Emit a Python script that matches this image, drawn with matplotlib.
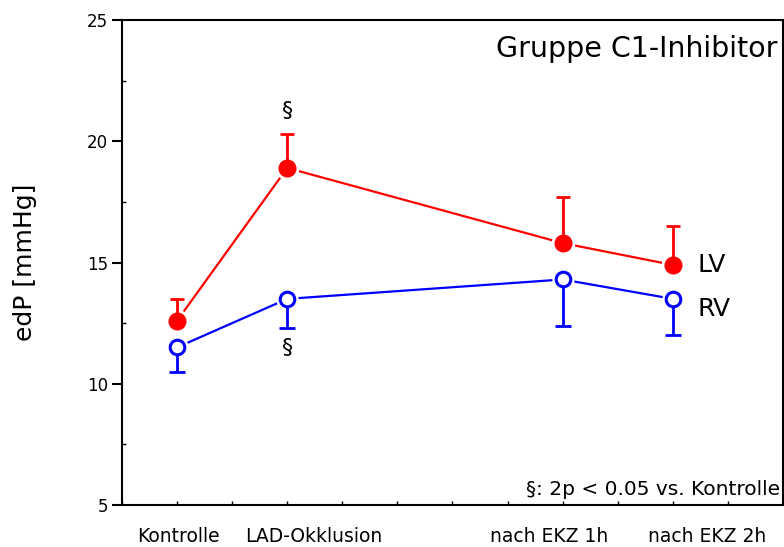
import numpy as np
import matplotlib.pyplot as plt
from matplotlib.ticker import MultipleLocator

# ----------------------------------------------------------------------
# Data
# ----------------------------------------------------------------------
categories = ["Kontrolle", "LAD-Okklusion", "nach EKZ 1h", "nach EKZ 2h"]
x_pos = [1.0, 2.0, 4.5, 5.5]
label_pos = [1.01, 2.24, 4.38, 5.81]   # labels are not centred on the points

lv_mean = [12.6, 18.9, 15.8, 14.9]
lv_err_up = [0.9, 1.4, 1.9, 1.6]

rv_mean = [11.5, 13.5, 14.3, 13.5]
rv_err_down = [1.0, 1.2, 1.9, 1.5]

red = "#ff0000"
blue = "#0000ff"

fig = plt.figure(figsize=(7.84, 5.47), dpi=100)
ax = fig.add_axes([0.1556, 0.0768, 0.8431, 0.8866])

x = np.array(x_pos)
lv = np.array(lv_mean)
rv = np.array(rv_mean)

# connecting lines, then a white halo so the lines stop short of the markers
ax.plot(x, lv, color=red, lw=1.6, zorder=2)
ax.plot(x, rv, color=blue, lw=1.6, zorder=2)
ax.plot(x, lv, ls="none", marker="o", ms=16, mfc="white", mec="white", zorder=3)
ax.plot(x, rv, ls="none", marker="o", ms=15, mfc="white", mec="white", zorder=3)

# one-sided error bars
ax.errorbar(x, lv, yerr=[np.zeros(4), lv_err_up], fmt="none", ecolor=red,
            elinewidth=2, capsize=5, capthick=2, zorder=4)
ax.errorbar(x, rv, yerr=[rv_err_down, np.zeros(4)], fmt="none", ecolor=blue,
            elinewidth=2, capsize=6, capthick=2, zorder=4)

# markers
ax.plot(x, lv, ls="none", marker="o", ms=12, mfc=red, mec=red, zorder=5)
ax.plot(x, rv, ls="none", marker="o", ms=10.5, mfc="white", mec=blue, mew=2.2, zorder=5)

# axes
ax.set_xlim(0.5, 6.5)
ax.set_ylim(5, 25)
ax.set_yticks([5, 10, 15, 20, 25])
ax.yaxis.set_minor_locator(MultipleLocator(2.5))
ax.xaxis.set_major_locator(MultipleLocator(0.5))
ax.set_xticklabels([])

ax.tick_params(axis="y", which="major", direction="out", length=7, width=1.5,
               labelsize=12, pad=3)
ax.tick_params(axis="y", which="minor", direction="in", length=3, width=1)
ax.tick_params(axis="x", which="both", direction="in", length=3, width=1)

for s in ax.spines.values():
    s.set_linewidth(1.5)

for lp, name in zip(label_pos, categories):
    ax.text(lp, -0.045, name, fontsize=13.5, ha="center", va="top",
            transform=ax.get_xaxis_transform())

ax.set_ylabel("edP [mmHg]", fontsize=18, labelpad=36)

# annotations
ax.text(6.45, 24.4, "Gruppe C1-Inhibitor", fontsize=20.5, ha="right", va="top")
ax.text(6.47, 5.25, "§: 2p < 0.05 vs. Kontrolle", fontsize=14.5, ha="right", va="bottom")
ax.text(x_pos[1], lv[1] + lv_err_up[1] + 0.55, "§", fontsize=16, ha="center", va="bottom")
ax.text(x_pos[1], rv[1] - rv_err_down[1] - 0.4, "§", fontsize=16, ha="center", va="top")
ax.text(5.72, lv[3], "LV", fontsize=18, ha="left", va="center")
ax.text(5.72, rv[3] - 0.4, "RV", fontsize=18, ha="left", va="center")

fig.savefig("out.png", dpi=100)
